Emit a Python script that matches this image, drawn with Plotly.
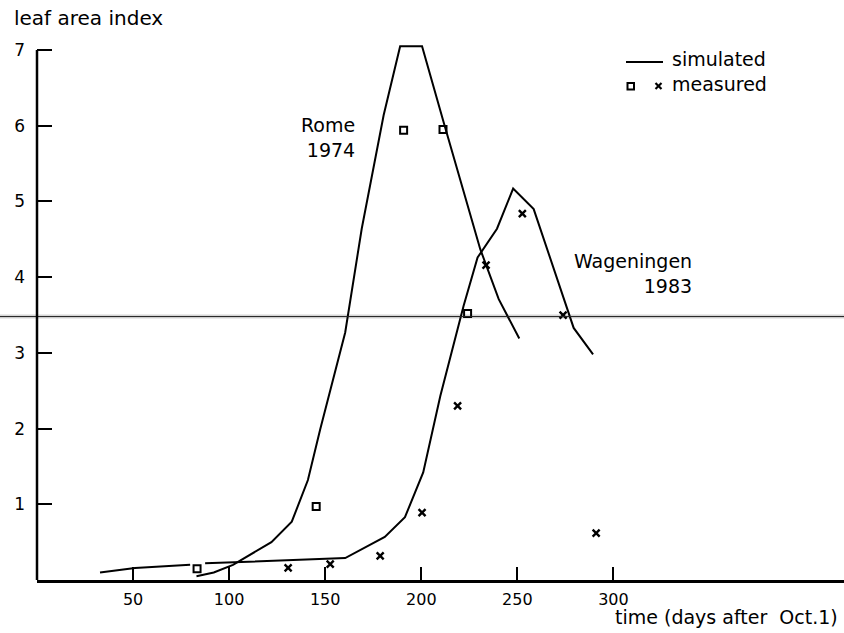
import plotly.graph_objects as go

# ---- data (days after Oct. 1, leaf area index) ----
rome_sim_day = [83, 92, 102, 122, 132.6, 141, 147.4, 160.4, 169, 180.4, 189, 200.4, 211.6, 230.7, 240.3, 251]
rome_sim_lai = [0.05, 0.1, 0.2, 0.5, 0.77, 1.32, 1.99, 3.27, 4.64, 6.14, 7.05, 7.05, 6.05, 4.37, 3.71, 3.19]

wag_sim_day = [32.8, 51, 79.7, None, 87.5, 160.4, 181, 191.5, 201, 209.9, 222, 229.3, 239.4, 247.8, 258.5, 275.9, 279.3, 289.4]
wag_sim_lai = [0.1, 0.16, 0.2, None, 0.22, 0.29, 0.57, 0.83, 1.42, 2.43, 3.62, 4.26, 4.64, 5.17, 4.9, 3.58, 3.33, 2.98]

rome_meas_day = [83.3, 145.3, 190.8, 211.3, 224.1]
rome_meas_lai = [0.15, 0.97, 5.94, 5.95, 3.52]

wag_meas_day = [130.7, 152.6, 178.6, 200.4, 218.9, 233.7, 252.6, 273.8, 291]
wag_meas_lai = [0.16, 0.21, 0.32, 0.89, 2.30, 4.16, 4.84, 3.5, 0.62]

x_ticks = [50, 100, 150, 200, 250, 300]
y_ticks = [1, 2, 3, 4, 5, 6, 7]
y_axis_top = 7
fold_line_lai = 3.48  # horizontal scan line across the figure

FONT = "DejaVu Sans"
W, H = 844, 633
ML, MR, MT, MB = 37, 0, 41, 53
PW, PH = W - ML - MR, H - MT - MB


def px(x):
    return (x - ML) / PW


def py(y):
    return (H - MB - y) / PH


fig = go.Figure()
line_style = dict(color="black", width=2)
fig.add_trace(go.Scatter(x=rome_sim_day, y=rome_sim_lai, mode="lines", line=line_style, showlegend=False))
fig.add_trace(go.Scatter(x=wag_sim_day, y=wag_sim_lai, mode="lines", line=line_style, showlegend=False,
                         connectgaps=False))
fig.add_trace(go.Scatter(x=rome_meas_day, y=rome_meas_lai, mode="markers", showlegend=False,
                         marker=dict(symbol="square-open", size=7, color="black", line=dict(width=2))))
fig.add_trace(go.Scatter(x=wag_meas_day, y=wag_meas_lai, mode="markers", showlegend=False,
                         marker=dict(symbol="x-thin", size=7, color="black", line=dict(width=2.4, color="black"))))

shapes = []
# fold line
shapes.append(dict(type="line", xref="paper", yref="y", x0=px(0), x1=1, y0=fold_line_lai, y1=fold_line_lai,
                   line=dict(color="#d6d6d6", width=4), layer="below"))
shapes.append(dict(type="line", xref="paper", yref="y", x0=px(0), x1=1, y0=fold_line_lai, y1=fold_line_lai,
                   line=dict(color="#222", width=1), layer="above"))
# y axis line ending at the top tick
shapes.append(dict(type="line", xref="paper", yref="y", x0=0, x1=0, y0=0, y1=y_axis_top,
                   line=dict(color="black", width=2.5)))
# legend line
shapes.append(dict(type="line", xref="paper", yref="paper", x0=px(626), x1=px(663), y0=py(62), y1=py(62),
                   line=dict(color="black", width=2)))
# legend square
shapes.append(dict(type="rect", xref="paper", yref="paper", x0=px(627.5), x1=px(634), y0=py(89.5), y1=py(83),
                   line=dict(color="black", width=2)))
# legend x
shapes.append(dict(type="line", xref="paper", yref="paper", x0=px(655.5), x1=px(661.5), y0=py(83), y1=py(89),
                   line=dict(color="black", width=2.2)))
shapes.append(dict(type="line", xref="paper", yref="paper", x0=px(655.5), x1=px(661.5), y0=py(89), y1=py(83),
                   line=dict(color="black", width=2.2)))

ann_font = dict(family=FONT, size=19, color="black")
title_font = dict(family=FONT, size=20, color="black")
annotations = [
    dict(text="leaf area index", xref="paper", yref="paper", x=px(12), y=py(18), xanchor="left", yanchor="middle",
         showarrow=False, font=title_font),
    dict(text="time (days after\u00a0 Oct.1)", xref="paper", yref="paper", x=px(840), y=py(617), xanchor="right",
         yanchor="middle", showarrow=False, font=dict(family=FONT, size=19, color="black")),
    dict(text="simulated", xref="paper", yref="paper", x=px(670), y=py(59), xanchor="left", yanchor="middle",
         showarrow=False, font=ann_font),
    dict(text="measured", xref="paper", yref="paper", x=px(670), y=py(84), xanchor="left", yanchor="middle",
         showarrow=False, font=ann_font),
    dict(text="Rome<br>1974", xref="paper", yref="paper", x=px(357), y=py(137), xanchor="right", align="right",
         yanchor="middle", showarrow=False, font=ann_font),
    dict(text="Wageningen<br>1983", xref="paper", yref="paper", x=px(694), y=py(273), xanchor="right", align="right",
         yanchor="middle", showarrow=False, font=ann_font),
]

fig.update_layout(
    width=W, height=H,
    margin=dict(l=ML, r=MR, t=MT, b=MB, pad=0),
    paper_bgcolor="white", plot_bgcolor="white",
    font=dict(family=FONT, size=17, color="black"),
    shapes=shapes, annotations=annotations,
    xaxis=dict(range=[0, 420], tickvals=x_ticks, ticktext=[str(v) for v in x_ticks], ticks="inside",
               ticklen=13, tickwidth=1.8, tickcolor="black", showline=True, linecolor="black", linewidth=2.5,
               showgrid=False, zeroline=False, ticklabelstandoff=3, tickfont=dict(size=16)),
    yaxis=dict(range=[0, 7.12], tickvals=y_ticks, ticktext=[str(v) for v in y_ticks], ticks="inside",
               ticklen=15, tickwidth=2, tickcolor="black", showline=False,
               showgrid=False, zeroline=False, ticklabelstandoff=11),
)

fig.write_html("out.html")
